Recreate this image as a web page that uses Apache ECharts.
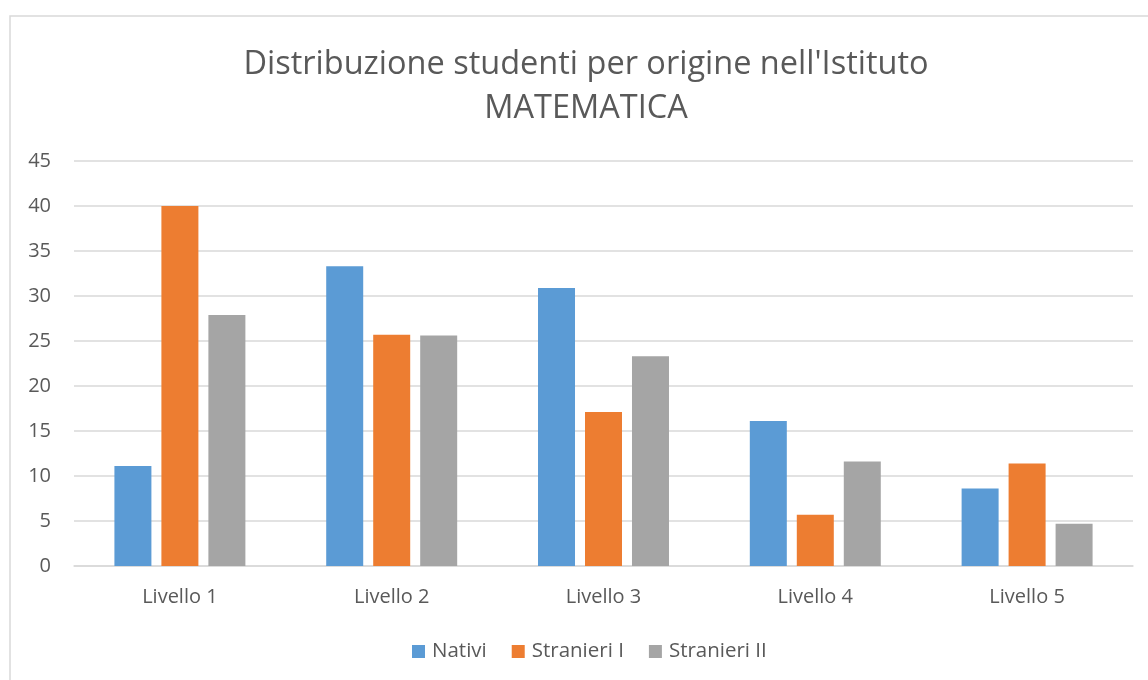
<!DOCTYPE html>
<html>
<head>
<meta charset="utf-8">
<script src="https://cdn.jsdelivr.net/npm/echarts@6/dist/echarts.min.js"></script>
<style>
html,body{margin:0;padding:0;background:#fff;}
#main{width:1148px;height:680px;}
</style>
</head>
<body>
<div id="main"></div>
<script>
const categories = ['Livello 1','Livello 2','Livello 3','Livello 4','Livello 5'];
const nativi = [11.1, 33.3, 30.9, 16.1, 8.6];
const stranieriI = [40.0, 25.7, 17.1, 5.7, 11.4];
const stranieriII = [27.9, 25.6, 23.3, 11.6, 4.7];
const seriesNames = ['Nativi','Stranieri I','Stranieri II'];
const colors = ['#5B9BD5','#ED7D31','#A5A5A5'];
const titleText = "Distribuzione studenti per origine nell'Istituto\nMATEMATICA";

const chart = echarts.init(document.getElementById('main'), null, {renderer:'canvas'});
const font = "'Open Sans', sans-serif";
const mk = (name, data, i) => ({
  name, type:'bar', data, barWidth:37, barGap:'27%',
  itemStyle:{color:colors[i]}, emphasis:{disabled:true}
});
chart.setOption({
  animation:false,
  textStyle:{fontFamily:font},
  graphic:[{type:'rect', shape:{x:10,y:16,width:1200,height:700}, style:{fill:'none',stroke:'#d9d9d9',lineWidth:1.5}, silent:true}],
  title:{text:titleText, left:581, textAlign:'center', top:38, textStyle:{fontFamily:font, fontSize:32.5, fontWeight:'normal', color:'#595959', lineHeight:44}},
  legend:{data:seriesNames, top:636, left:407, itemWidth:13, itemHeight:13, itemGap:25, icon:'rect',
    textStyle:{fontFamily:font, fontSize:20.5, color:'#595959', padding:[0,0,0,2]}},
  grid:{left:74, right:15, top:161, bottom:114, containLabel:false},
  xAxis:{type:'category', data:categories,
    axisLine:{lineStyle:{color:'#d9d9d9', width:1.5}}, axisTick:{show:false},
    axisLabel:{fontFamily:font, fontSize:20, color:'#595959', margin:21}},
  yAxis:{type:'value', min:0, max:45, interval:5,
    axisLine:{show:false}, axisTick:{show:false},
    splitLine:{lineStyle:{color:'#d9d9d9', width:1.5}},
    axisLabel:{fontFamily:font, fontSize:20, color:'#595959', margin:23}},
  series:[mk(seriesNames[0], nativi, 0), mk(seriesNames[1], stranieriI, 1), mk(seriesNames[2], stranieriII, 2)]
});
</script>
</body>
</html>
